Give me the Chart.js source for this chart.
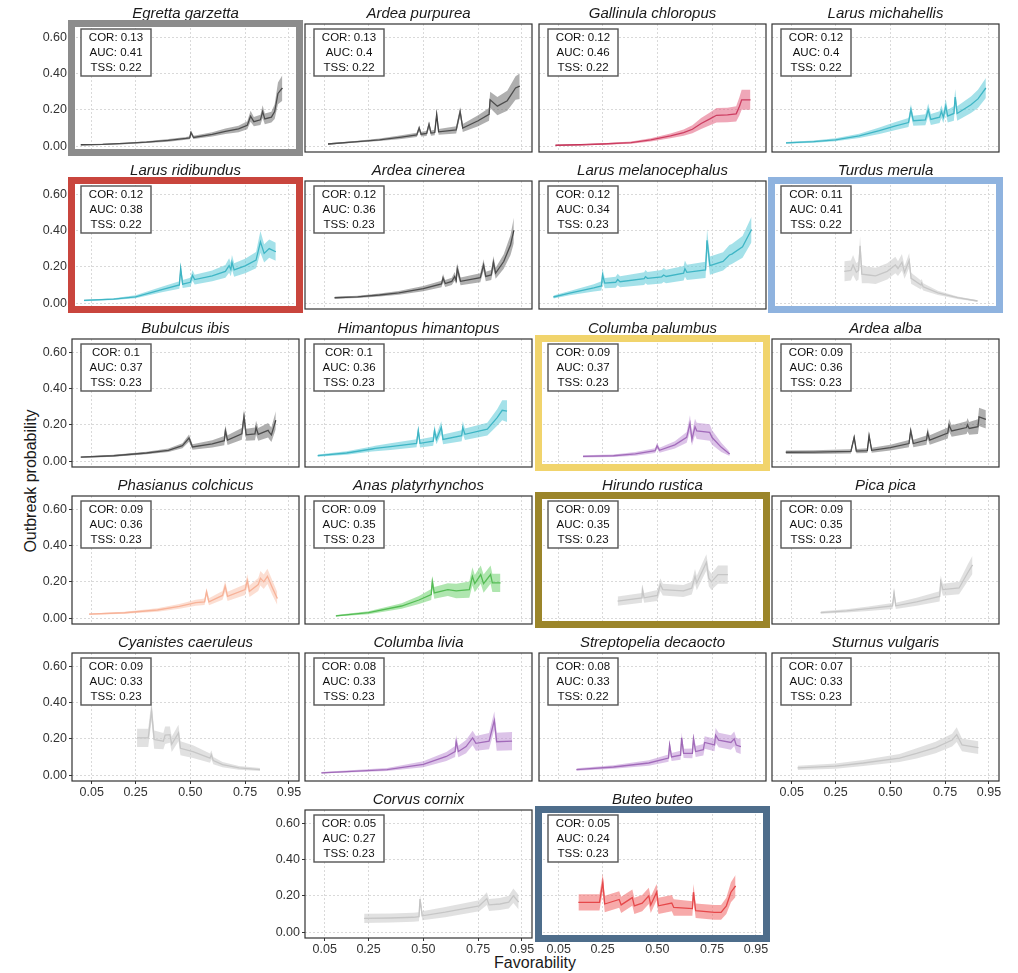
<!DOCTYPE html>
<html>
<head>
<meta charset="utf-8">
<script src="https://cdn.jsdelivr.net/npm/chart.js@4.4.0/dist/chart.umd.min.js"></script>
<style>
  body { margin: 0; background: #fff; }
  #fig { position: relative; width: 1018px; height: 973px; overflow: hidden; font-family: "Liberation Sans", Arial, sans-serif; }
  #fig canvas { position: absolute; }
  .axis-title { position: absolute; font-size: 16px; color: #1a1a1a; white-space: nowrap; }
</style>
</head>
<body>
<div id="fig">
  <div class="axis-title" id="ytitle">Outbreak probability</div>
  <div class="axis-title" id="xtitle">Favorability</div>
</div>
<script>
// species, in panel order
const speciesNames = [
  'Egretta garzetta', 'Ardea purpurea', 'Gallinula chloropus', 'Larus michahellis',
  'Larus ridibundus', 'Ardea cinerea', 'Larus melanocephalus', 'Turdus merula',
  'Bubulcus ibis', 'Himantopus himantopus', 'Columba palumbus', 'Ardea alba',
  'Phasianus colchicus', 'Anas platyrhynchos', 'Hirundo rustica', 'Pica pica',
  'Cyanistes caeruleus', 'Columba livia', 'Streptopelia decaocto', 'Sturnus vulgaris',
  'Corvus cornix', 'Buteo buteo'
];
const corValues = ['0.13','0.13','0.12','0.12','0.12','0.12','0.12','0.11','0.1','0.1','0.09','0.09','0.09','0.09','0.09','0.09','0.09','0.08','0.08','0.07','0.05','0.05'];
const aucValues = ['0.41','0.4','0.46','0.4','0.38','0.36','0.34','0.41','0.37','0.36','0.37','0.36','0.36','0.35','0.35','0.35','0.33','0.33','0.33','0.33','0.27','0.24'];
const tssValues = ['0.22','0.22','0.22','0.22','0.22','0.23','0.23','0.22','0.23','0.23','0.23','0.23','0.23','0.23','0.23','0.23','0.23','0.23','0.22','0.23','0.23','0.23'];

const xTicks = [0.05, 0.25, 0.50, 0.75, 0.95];
const yTicks = [0.00, 0.20, 0.40, 0.60];

// favorability (x), outbreak probability (y), ribbon half-width (w)
const egrettaX = [0.00,0.10,0.20,0.30,0.40,0.48,0.497,0.503,0.515,0.60,0.66,0.72,0.76,0.775,0.79,0.82,0.83,0.84,0.87,0.885,0.90,0.92];
const egrettaY = [0.008,0.010,0.015,0.022,0.032,0.043,0.046,0.075,0.048,0.065,0.082,0.095,0.115,0.165,0.135,0.145,0.19,0.15,0.16,0.19,0.29,0.32];
const egrettaW = [0.003,0.003,0.004,0.005,0.007,0.008,0.008,0.012,0.009,0.012,0.015,0.018,0.022,0.03,0.025,0.028,0.035,0.03,0.03,0.04,0.06,0.07];

const purpureaX = [0.065,0.20,0.30,0.40,0.47,0.481,0.49,0.515,0.526,0.535,0.552,0.561,0.57,0.65,0.668,0.68,0.75,0.80,0.805,0.838,0.883,0.921,0.94];
const purpureaY = [0.012,0.025,0.035,0.05,0.062,0.10,0.066,0.07,0.12,0.072,0.075,0.175,0.079,0.09,0.19,0.10,0.14,0.175,0.255,0.22,0.25,0.32,0.33];
const purpureaW = [0.004,0.005,0.007,0.01,0.012,0.015,0.013,0.014,0.018,0.014,0.015,0.02,0.016,0.02,0.025,0.022,0.03,0.035,0.045,0.05,0.055,0.065,0.07];

const gallinulaX = [0.035,0.15,0.25,0.38,0.47,0.56,0.62,0.66,0.70,0.74,0.77,0.82,0.86,0.875,0.885,0.925];
const gallinulaY = [0.005,0.008,0.012,0.02,0.035,0.057,0.075,0.093,0.125,0.15,0.17,0.172,0.178,0.22,0.255,0.255];
const gallinulaW = [0.002,0.003,0.004,0.006,0.009,0.013,0.017,0.022,0.03,0.035,0.04,0.04,0.042,0.05,0.055,0.055];

const michahellisX = [0.024,0.15,0.25,0.358,0.45,0.52,0.583,0.594,0.605,0.66,0.673,0.685,0.725,0.733,0.742,0.753,0.762,0.79,0.796,0.805,0.868,0.90,0.936];
const michahellisY = [0.018,0.025,0.035,0.057,0.085,0.11,0.13,0.20,0.14,0.145,0.20,0.147,0.16,0.19,0.16,0.22,0.165,0.18,0.27,0.18,0.228,0.26,0.32];
const michahellisW = [0.005,0.006,0.008,0.012,0.018,0.022,0.025,0.03,0.027,0.03,0.035,0.03,0.032,0.035,0.032,0.04,0.035,0.04,0.045,0.04,0.045,0.05,0.055];

const ridibundusX = [0.015,0.15,0.25,0.37,0.45,0.456,0.465,0.50,0.51,0.52,0.60,0.66,0.677,0.685,0.69,0.70,0.75,0.80,0.82,0.837,0.86,0.89];
const ridibundusY = [0.015,0.022,0.035,0.075,0.10,0.19,0.105,0.115,0.153,0.13,0.15,0.175,0.207,0.185,0.225,0.183,0.205,0.237,0.337,0.274,0.30,0.283];
const ridibundusW = [0.004,0.005,0.008,0.015,0.02,0.03,0.022,0.025,0.03,0.027,0.03,0.035,0.04,0.037,0.04,0.037,0.04,0.045,0.06,0.05,0.05,0.05];

const cinereaX = [0.095,0.20,0.30,0.388,0.50,0.583,0.59,0.60,0.63,0.643,0.65,0.655,0.67,0.76,0.775,0.785,0.81,0.82,0.83,0.867,0.898,0.913];
const cinereaY = [0.03,0.035,0.045,0.057,0.08,0.106,0.138,0.108,0.12,0.147,0.125,0.19,0.12,0.14,0.21,0.147,0.155,0.225,0.165,0.229,0.32,0.40];
const cinereaW = [0.006,0.006,0.008,0.01,0.014,0.018,0.022,0.019,0.02,0.024,0.021,0.03,0.021,0.025,0.032,0.026,0.028,0.035,0.03,0.04,0.055,0.07];

const melanocephalusX = [0.026,0.10,0.21,0.245,0.25,0.26,0.31,0.319,0.33,0.44,0.446,0.455,0.52,0.529,0.54,0.62,0.626,0.635,0.72,0.727,0.74,0.80,0.829,0.84,0.889,0.93];
const melanocephalusY = [0.034,0.055,0.084,0.095,0.156,0.11,0.115,0.13,0.118,0.135,0.146,0.137,0.145,0.155,0.147,0.165,0.19,0.17,0.183,0.346,0.207,0.23,0.265,0.27,0.31,0.405];
const melanocephalusW = [0.008,0.012,0.02,0.025,0.035,0.028,0.03,0.032,0.03,0.035,0.036,0.035,0.037,0.038,0.037,0.04,0.045,0.042,0.045,0.06,0.05,0.05,0.055,0.055,0.06,0.07];

const turdusX = [0.29,0.32,0.33,0.345,0.355,0.362,0.37,0.40,0.433,0.486,0.523,0.535,0.553,0.565,0.586,0.595,0.64,0.643,0.65,0.717,0.807,0.898];
const turdusY = [0.175,0.18,0.21,0.17,0.18,0.315,0.16,0.155,0.15,0.175,0.21,0.19,0.225,0.17,0.235,0.137,0.10,0.11,0.09,0.057,0.03,0.012];
const turdusW = [0.055,0.055,0.055,0.05,0.05,0.055,0.05,0.045,0.045,0.045,0.045,0.04,0.045,0.035,0.04,0.03,0.025,0.025,0.02,0.012,0.007,0.004];

const bubulcusX = [0.0,0.15,0.30,0.40,0.464,0.494,0.51,0.60,0.655,0.66,0.67,0.735,0.745,0.755,0.795,0.80,0.81,0.855,0.86,0.87,0.89];
const bubulcusY = [0.022,0.03,0.045,0.06,0.085,0.127,0.078,0.095,0.113,0.167,0.116,0.15,0.244,0.145,0.15,0.185,0.148,0.17,0.16,0.145,0.225];
const bubulcusW = [0.004,0.005,0.007,0.01,0.014,0.02,0.015,0.02,0.025,0.03,0.027,0.032,0.04,0.033,0.035,0.038,0.035,0.04,0.04,0.04,0.05];

const himantopusX = [0.018,0.15,0.266,0.28,0.35,0.469,0.477,0.485,0.545,0.551,0.56,0.582,0.59,0.675,0.68,0.69,0.792,0.837,0.86,0.882];
const himantopusY = [0.031,0.045,0.067,0.07,0.08,0.098,0.167,0.098,0.11,0.167,0.12,0.185,0.12,0.14,0.185,0.148,0.176,0.24,0.28,0.275];
const himantopusW = [0.006,0.01,0.014,0.015,0.018,0.022,0.03,0.023,0.025,0.032,0.027,0.034,0.027,0.03,0.035,0.032,0.035,0.045,0.055,0.06];

const palumbusX = [0.161,0.30,0.40,0.49,0.499,0.51,0.58,0.634,0.649,0.658,0.672,0.68,0.739,0.75,0.792,0.83];
const palumbusY = [0.026,0.03,0.04,0.058,0.085,0.06,0.09,0.131,0.207,0.12,0.189,0.167,0.158,0.13,0.076,0.04];
const palumbusW = [0.006,0.007,0.01,0.013,0.016,0.014,0.02,0.03,0.045,0.035,0.045,0.045,0.045,0.04,0.025,0.012];

const albaX = [0.023,0.15,0.32,0.335,0.345,0.395,0.403,0.415,0.50,0.585,0.593,0.605,0.665,0.67,0.68,0.762,0.768,0.78,0.848,0.852,0.86,0.90,0.905,0.936];
const albaY = [0.049,0.05,0.054,0.131,0.055,0.058,0.14,0.06,0.075,0.097,0.167,0.097,0.116,0.155,0.116,0.155,0.198,0.166,0.185,0.2,0.18,0.19,0.244,0.23];
const albaW = [0.01,0.01,0.012,0.015,0.012,0.013,0.017,0.014,0.016,0.02,0.025,0.021,0.025,0.03,0.026,0.03,0.035,0.032,0.035,0.037,0.035,0.04,0.05,0.05];

const phasianusX = [0.038,0.20,0.35,0.45,0.525,0.565,0.574,0.585,0.647,0.659,0.67,0.75,0.76,0.77,0.81,0.82,0.835,0.852,0.875,0.897];
const phasianusY = [0.022,0.03,0.045,0.065,0.085,0.09,0.145,0.09,0.125,0.175,0.12,0.157,0.206,0.148,0.185,0.22,0.2,0.23,0.166,0.108];
const phasianusW = [0.004,0.006,0.009,0.013,0.017,0.018,0.022,0.019,0.024,0.03,0.026,0.03,0.035,0.032,0.036,0.04,0.04,0.042,0.04,0.035];

const anasX = [0.101,0.25,0.401,0.48,0.536,0.541,0.55,0.612,0.65,0.71,0.724,0.735,0.762,0.775,0.807,0.815,0.852];
const anasY = [0.013,0.03,0.067,0.10,0.13,0.199,0.139,0.157,0.15,0.157,0.23,0.19,0.24,0.19,0.24,0.194,0.194];
const anasW = [0.004,0.008,0.015,0.022,0.03,0.035,0.032,0.035,0.04,0.045,0.05,0.048,0.05,0.05,0.05,0.05,0.05];

const hirundoX = [0.319,0.43,0.432,0.44,0.50,0.514,0.525,0.619,0.657,0.672,0.68,0.724,0.735,0.747,0.777,0.822];
const hirundoY = [0.094,0.112,0.157,0.112,0.125,0.185,0.157,0.15,0.165,0.23,0.194,0.307,0.22,0.2,0.24,0.24];
const hirundoW = [0.025,0.027,0.03,0.027,0.03,0.035,0.032,0.033,0.035,0.04,0.04,0.045,0.045,0.045,0.05,0.05];

const picaX = [0.182,0.30,0.40,0.51,0.517,0.525,0.62,0.725,0.73,0.74,0.814,0.852,0.875];
const picaY = [0.031,0.04,0.052,0.067,0.139,0.068,0.09,0.12,0.2,0.157,0.166,0.247,0.293];
const picaW = [0.007,0.009,0.012,0.016,0.02,0.017,0.022,0.028,0.035,0.033,0.035,0.045,0.05];

const cyanistesX = [0.257,0.308,0.323,0.335,0.377,0.385,0.407,0.415,0.446,0.455,0.512,0.59,0.596,0.605,0.647,0.722,0.818];
const cyanistesY = [0.205,0.205,0.354,0.196,0.187,0.22,0.223,0.17,0.232,0.148,0.13,0.094,0.112,0.08,0.058,0.04,0.031];
const cyanistesW = [0.05,0.05,0.055,0.05,0.045,0.048,0.045,0.042,0.045,0.038,0.035,0.025,0.025,0.02,0.015,0.01,0.008];

const liviaX = [0.035,0.335,0.50,0.605,0.645,0.65,0.66,0.695,0.725,0.74,0.80,0.824,0.835,0.905];
const liviaY = [0.013,0.031,0.06,0.103,0.13,0.184,0.13,0.157,0.205,0.175,0.187,0.30,0.184,0.187];
const liviaW = [0.004,0.008,0.016,0.025,0.03,0.035,0.032,0.036,0.04,0.04,0.045,0.05,0.05,0.05];

const streptopeliaX = [0.131,0.30,0.461,0.551,0.556,0.565,0.606,0.611,0.62,0.66,0.665,0.675,0.71,0.716,0.761,0.766,0.78,0.836,0.851,0.86,0.881];
const streptopeliaY = [0.031,0.045,0.067,0.094,0.166,0.1,0.11,0.205,0.12,0.12,0.2,0.13,0.14,0.18,0.166,0.22,0.193,0.18,0.2,0.166,0.157];
const streptopeliaW = [0.007,0.01,0.015,0.02,0.025,0.022,0.025,0.03,0.026,0.027,0.03,0.03,0.032,0.034,0.035,0.04,0.04,0.04,0.04,0.04,0.04];

const sturnusX = [0.077,0.25,0.377,0.542,0.62,0.707,0.782,0.803,0.827,0.86,0.902];
const sturnusY = [0.04,0.05,0.067,0.094,0.12,0.152,0.193,0.223,0.167,0.16,0.152];
const sturnusW = [0.012,0.014,0.017,0.022,0.028,0.032,0.035,0.04,0.035,0.035,0.035];

const corvusX = [0.23,0.35,0.455,0.48,0.485,0.495,0.60,0.755,0.79,0.80,0.85,0.89,0.911,0.935];
const corvusY = [0.076,0.078,0.082,0.085,0.182,0.09,0.11,0.145,0.185,0.15,0.155,0.165,0.2,0.165];
const corvusW = [0.025,0.025,0.025,0.025,0.028,0.025,0.028,0.03,0.035,0.033,0.033,0.035,0.04,0.04];

const buteoX = [0.14,0.236,0.251,0.26,0.326,0.335,0.386,0.395,0.431,0.461,0.47,0.497,0.505,0.566,0.575,0.66,0.665,0.675,0.761,0.791,0.815,0.836,0.857];
const buteoY = [0.164,0.164,0.273,0.155,0.18,0.15,0.19,0.145,0.16,0.2,0.15,0.22,0.145,0.16,0.136,0.13,0.22,0.118,0.109,0.109,0.145,0.22,0.254];
const buteoW = [0.045,0.045,0.05,0.045,0.045,0.045,0.045,0.045,0.045,0.045,0.045,0.045,0.045,0.045,0.045,0.04,0.045,0.04,0.04,0.04,0.045,0.055,0.06];

const curveX = [egrettaX, purpureaX, gallinulaX, michahellisX, ridibundusX, cinereaX, melanocephalusX, turdusX,
  bubulcusX, himantopusX, palumbusX, albaX, phasianusX, anasX, hirundoX, picaX,
  cyanistesX, liviaX, streptopeliaX, sturnusX, corvusX, buteoX];
const curveY = [egrettaY, purpureaY, gallinulaY, michahellisY, ridibundusY, cinereaY, melanocephalusY, turdusY,
  bubulcusY, himantopusY, palumbusY, albaY, phasianusY, anasY, hirundoY, picaY,
  cyanistesY, liviaY, streptopeliaY, sturnusY, corvusY, buteoY];
const curveW = [egrettaW, purpureaW, gallinulaW, michahellisW, ridibundusW, cinereaW, melanocephalusW, turdusW,
  bubulcusW, himantopusW, palumbusW, albaW, phasianusW, anasW, hirundoW, picaW,
  cyanistesW, liviaW, streptopeliaW, sturnusW, corvusW, buteoW];

// line / ribbon colours
const PALETTE = {
  black:  ['#262626', 'rgba(110,110,110,0.55)'],
  teal:   ['#1f9fb0', 'rgba(90,200,215,0.55)'],
  crimson:['#b3163f', 'rgba(225,95,125,0.55)'],
  grey:   ['#bcbcbc', 'rgba(205,205,205,0.6)'],
  purple: ['#8a4fa3', 'rgba(185,135,210,0.5)'],
  salmon: ['#f5a68a', 'rgba(250,190,165,0.5)'],
  green:  ['#35a335', 'rgba(110,210,110,0.55)'],
  red:    ['#d9262b', 'rgba(240,100,100,0.55)']
};
const speciesColor = ['black','black','crimson','teal','teal','black','teal','grey',
  'black','teal','purple','black','salmon','green','grey','grey',
  'grey','purple','purple','grey','grey','red'];
const highlightColor = {
  'Egretta garzetta': '#8c8c8c',
  'Larus ridibundus': '#c9453d',
  'Turdus merula': '#8fb3df',
  'Columba palumbus': '#f1d46c',
  'Hirundo rustica': '#9b852a',
  'Buteo buteo': '#4e6d8b'
};

// grid placement [row, col]
const cells = [[0,0],[0,1],[0,2],[0,3],[1,0],[1,1],[1,2],[1,3],[2,0],[2,1],[2,2],[2,3],
  [3,0],[3,1],[3,2],[3,3],[4,0],[4,1],[4,2],[4,3],[5,1],[5,2]];

const COL_LEFT = [72, 305, 539, 772];
const ROW_TOP = [24, 181, 339, 496, 653, 810];
const PANEL_W = 227, PANEL_H = 128;
const M_LEFT = 48, M_TOP = 22, M_RIGHT = 14, M_BOTTOM = 20;
const FONT = '"Liberation Sans", Arial, sans-serif';

const panelDecor = {
  id: 'panelDecor',
  afterDraw(chart, args, opts) {
    const { ctx, chartArea: a } = chart;
    ctx.save();
    // strip title
    ctx.fillStyle = '#1a1a1a';
    ctx.font = 'italic 15px ' + FONT;
    ctx.textAlign = 'center';
    ctx.textBaseline = 'middle';
    ctx.fillText(opts.title, (a.left + a.right) / 2, a.top - 10);
    // panel border
    ctx.strokeStyle = '#333';
    ctx.lineWidth = 1.2;
    ctx.strokeRect(a.left, a.top, a.right - a.left, a.bottom - a.top);
    // stats box
    const bx = a.left + 9, by = a.top + 5, bw = 70, bh = 47;
    ctx.fillStyle = '#fff';
    ctx.fillRect(bx, by, bw, bh);
    ctx.strokeStyle = '#555';
    ctx.lineWidth = 1.4;
    ctx.strokeRect(bx, by, bw, bh);
    ctx.fillStyle = '#111';
    ctx.font = '11.5px ' + FONT;
    opts.lines.forEach((t, i) => ctx.fillText(t, bx + bw / 2, by + 9 + i * 15));
    // highlight frame
    if (opts.frame) {
      ctx.strokeStyle = opts.frame;
      ctx.lineWidth = 7;
      ctx.strokeRect(a.left - 0.5, a.top - 0.5, a.right - a.left + 1, a.bottom - a.top + 1);
    }
    ctx.restore();
  }
};

const fig = document.getElementById('fig');

speciesNames.forEach((name, i) => {
  const [row, col] = cells[i];
  const showY = col === 0 || (row === 5 && col === 1);
  const showX = row === 5 || (row === 4 && (col === 0 || col === 3));
  const [lineCol, bandCol] = PALETTE[speciesColor[i]];

  const canvas = document.createElement('canvas');
  const W = M_LEFT + PANEL_W + M_RIGHT, H = M_TOP + PANEL_H + M_BOTTOM;
  canvas.width = W; canvas.height = H;
  canvas.style.left = (COL_LEFT[col] - M_LEFT) + 'px';
  canvas.style.top = (ROW_TOP[row] - M_TOP) + 'px';
  fig.appendChild(canvas);

  const xs = curveX[i], ys = curveY[i], ws = curveW[i];
  const upper = xs.map((x, k) => ({ x, y: ys[k] + ws[k] }));
  const lower = xs.map((x, k) => ({ x, y: Math.max(0, ys[k] - ws[k]) }));
  const mean = xs.map((x, k) => ({ x, y: ys[k] }));

  new Chart(canvas, {
    type: 'line',
    data: {
      datasets: [
        { data: upper, borderWidth: 0, pointRadius: 0, fill: '+1', backgroundColor: bandCol, tension: 0 },
        { data: lower, borderWidth: 0, pointRadius: 0, fill: false, tension: 0 },
        { data: mean, borderColor: lineCol, borderWidth: 1.3, pointRadius: 0, fill: false, tension: 0 }
      ]
    },
    options: {
      responsive: false,
      animation: false,
      events: [],
      layout: { padding: { left: 0, top: M_TOP, right: M_RIGHT, bottom: 0 } },
      plugins: {
        legend: { display: false },
        tooltip: { enabled: false },
        title: { display: false },
        panelDecor: {
          title: name,
          lines: ['COR: ' + corValues[i], 'AUC: ' + aucValues[i], 'TSS: ' + tssValues[i]],
          frame: highlightColor[name] || null
        }
      },
      scales: {
        x: {
          type: 'linear',
          min: -0.04,
          max: 0.996,
          afterBuildTicks: axis => { axis.ticks = xTicks.map(v => ({ value: v })); },
          afterFit: axis => { axis.height = M_BOTTOM; },
          border: { display: false, dash: [2, 2] },
          grid: { color: '#d9d9d9', lineWidth: 1, drawTicks: showX, tickLength: 3, tickColor: '#333', tickBorderDash: [] },
          ticks: {
            display: showX,
            padding: 1,
            maxRotation: 0,
            color: '#333',
            font: { family: FONT, size: 12.5 },
            callback: v => v.toFixed(2)
          }
        },
        y: {
          type: 'linear',
          min: -0.032,
          max: 0.672,
          afterBuildTicks: axis => { axis.ticks = yTicks.map(v => ({ value: v })); },
          afterFit: axis => { axis.width = M_LEFT; },
          border: { display: false, dash: [2, 2] },
          grid: { color: '#d9d9d9', lineWidth: 1, drawTicks: showY, tickLength: 3, tickColor: '#333', tickBorderDash: [] },
          ticks: {
            display: showY,
            padding: 2,
            color: '#333',
            font: { family: FONT, size: 12.5 },
            callback: v => v.toFixed(2)
          }
        }
      }
    },
    plugins: [panelDecor]
  });
});

// axis titles, centred on the panel block
const yt = document.getElementById('ytitle');
yt.style.left = '31px';
yt.style.top = '481px';
yt.style.transform = 'translate(-50%, -50%) rotate(-90deg)';
const xt = document.getElementById('xtitle');
xt.style.left = '535px';
xt.style.top = '963px';
xt.style.transform = 'translate(-50%, -50%)';
</script>
</body>
</html>
